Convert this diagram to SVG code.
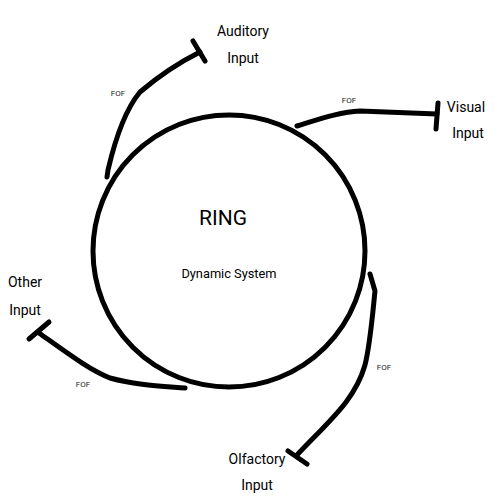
<svg xmlns="http://www.w3.org/2000/svg" width="494" height="500" viewBox="0 0 494 500">
<style>
.ln{fill:none;stroke:#000;stroke-width:5;stroke-linecap:round;stroke-linejoin:round}
.t{font-family:Roboto,"Liberation Sans",sans-serif;fill:#000;text-anchor:middle}
.lbl{font-size:14px}
.fof{font-size:8px;fill:#222}
</style>
<rect width="494" height="500" fill="#fff"/>
<g id="ring">
<circle class="ln" cx="229" cy="251" r="136"/>
<text class="t" x="223" y="225" font-size="21">RING</text>
<text class="t" x="229" y="278" font-size="12.8">Dynamic System</text>
</g>
<g id="auditory"><text class="t lbl" x="243" y="36">Auditory</text><text class="t lbl" x="243" y="63">Input</text></g>
<g id="visual"><text class="t lbl" x="466" y="112">Visual</text><text class="t lbl" x="468" y="138">Input</text></g>
<g id="other"><text class="t lbl" x="25" y="287">Other</text><text class="t lbl" x="25" y="315">Input</text></g>
<g id="olfactory"><text class="t lbl" x="257" y="464">Olfactory</text><text class="t lbl" x="257" y="490">Input</text></g>
<g id="connectors">
<path class="ln" d="M107,177 L108,170 C115,140 125,110 140,92 C160,75 180,62 200,52"/>
<path class="ln" d="M193,41 L205,61"/>
<text class="t fof" x="118" y="96">FOF</text>
<path class="ln" d="M297,126 C320,119 340,112 360,111 L437,114"/>
<path class="ln" d="M438,103 L436,129"/>
<text class="t fof" x="349" y="103">FOF</text>
<path class="ln" d="M39,333 C70,355 90,370 110,378 C135,385 160,386 185,388"/>
<path class="ln" d="M29,339 L49,322"/>
<text class="t fof" x="83" y="387">FOF</text>
<path class="ln" d="M370,274 L375,291 C372,320 370,345 365,365 C355,400 330,420 297,455"/>
<path class="ln" d="M288,451 L307,464"/>
<text class="t fof" x="384" y="370">FOF</text>
</g>
</svg>
